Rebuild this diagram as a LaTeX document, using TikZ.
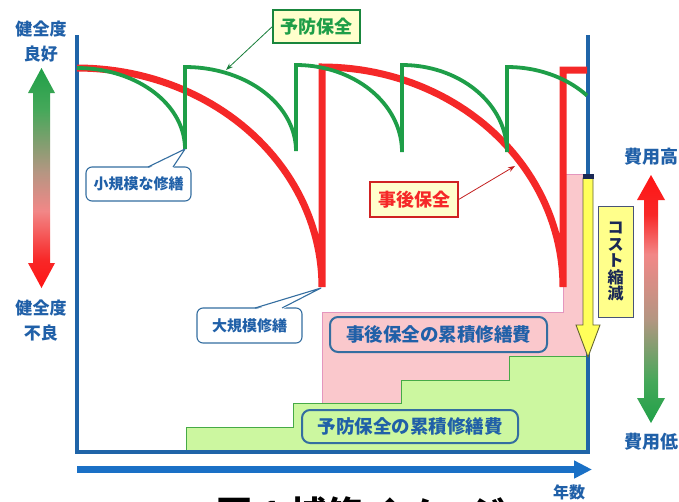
\documentclass[tikz,border=0pt]{standalone}
\usepackage{fontspec}
\newfontfamily\jp{Noto Sans CJK JP}
\usetikzlibrary{arrows.meta}
\definecolor{axisblue}{RGB}{31,100,168}
\definecolor{timeblue}{RGB}{26,112,198}
\definecolor{rline}{RGB}{245,40,40}
\definecolor{gline}{RGB}{30,158,72}
\definecolor{tblue}{RGB}{32,96,168}
\definecolor{pinkfill}{RGB}{250,200,204}
\definecolor{pinkedge}{RGB}{228,150,190}
\definecolor{greenfill}{RGB}{204,247,160}
\definecolor{greenedge}{RGB}{70,170,70}
\definecolor{creamfill}{RGB}{255,255,204}
\definecolor{yfill}{RGB}{255,255,90}
\definecolor{yedge}{RGB}{100,100,50}
\definecolor{navy}{RGB}{26,40,85}
\definecolor{boxedge}{RGB}{52,110,160}
\definecolor{hred}{RGB}{255,20,20}
\definecolor{hred2}{RGB}{248,40,40}
\definecolor{hpink}{RGB}{242,135,135}
\definecolor{hgray}{RGB}{180,150,130}
\definecolor{hgreen2}{RGB}{70,168,90}
\definecolor{hgreen}{RGB}{32,160,72}
\pgfdeclareverticalshading{healthgrad}{100bp}{color(0bp)=(hred); color(25bp)=(hred); color(31.5bp)=(hred2); color(42.5bp)=(hpink); color(51.5bp)=(hgray); color(65.5bp)=(hgreen2); color(75bp)=(hgreen); color(100bp)=(hgreen)}
\pgfdeclareverticalshading{costgrad}{100bp}{color(0bp)=(hgreen); color(25bp)=(hgreen); color(33.5bp)=(hgreen2); color(46bp)=(hgray); color(59bp)=(hpink); color(67bp)=(hred2); color(75bp)=(hred); color(100bp)=(hred)}
\tikzset{
  jpfont/.style={font=\jp\bfseries\fontsize{#1}{#1}\selectfont},
  lbl/.style={text=tblue, inner sep=0pt, align=center},
  redcurve/.style={draw=rline, line width=7pt, line join=miter},
  greencurve/.style={draw=gline, line width=3.8pt, line join=miter},
  callbox/.style={draw=boxedge, line width=1.1pt, fill=white, rounded corners=6pt, text=tblue, inner sep=0pt},
  costbox/.style={draw=boxedge, line width=2pt, rounded corners=8pt, text=tblue, inner sep=0pt},
}
\begin{document}
\begin{tikzpicture}[x=1pt,y=-1pt]
\useasboundingbox (0,0) rectangle (679,501);
\fill[white] (0,0) rectangle (679,501);

% cumulative cost regions
\fill[pinkfill] (322,452) -- (322,312) -- (563,312) -- (563,174) -- (588,174) -- (588,452) -- cycle;
\draw[pinkedge, line width=0.9pt] (322,452) -- (322,312) -- (563,312) -- (563,174) -- (588,174);
\filldraw[fill=greenfill, draw=greenedge, line width=0.9pt] (186,452) -- (186,427) -- (293,427) -- (293,403) -- (401,403) -- (401,380) -- (509,380) -- (509,356) -- (588,356) -- (588,452) -- cycle;

% axes frame
\draw[axisblue, line width=3.5pt] (77,35) -- (77,452) -- (588,452) -- (588,35);

% time arrow
\coordinate (t0) at (77,469.5);
\coordinate (t1) at (592,469.5);
\draw[timeblue, line width=7.5pt, -{Triangle[length=18pt,width=17pt]}] (t0) -- (t1);

% red curve (after-the-fact maintenance)
\draw[redcurve] plot[domain=0:90,samples=50] ({77+245*sin(\x)},{287-219*cos(\x)})
  -- plot[domain=0:90,samples=50] ({322+241*sin(\x)},{287-220*cos(\x)})
  -- (563,70) -- (587,70);

% green curve (preventive maintenance)
\draw[greencurve] plot[domain=0:90,samples=40] ({77+108*sin(\x)},{149-81*cos(\x)})
  -- plot[domain=0:90,samples=40] ({185+111*sin(\x)},{151-84*cos(\x)})
  -- plot[domain=0:90,samples=40] ({296+106*sin(\x)},{152-87*cos(\x)})
  -- plot[domain=0:90,samples=40] ({402+105*sin(\x)},{152-87*cos(\x)})
  -- plot[domain=0:48.4,samples=30] ({507+107*sin(\x)},{152-85*cos(\x)});

% label boxes
\node[draw=gline!85!black, line width=1.2pt, fill=creamfill, text=gline, jpfont=18, minimum width=87pt, minimum height=33pt, inner sep=0pt] (yobo) at (316.5,26.5) {予防保全};
\coordinate (yobopt) at (226,70);
\draw[gline!80!black, line width=0.8pt, -{Stealth[length=7pt,width=5pt]}] (yobo.west) -- (yobopt);

\node[draw=rline!85!black, line width=1.2pt, fill=creamfill, text=rline, jpfont=18, minimum width=88pt, minimum height=35pt, inner sep=0pt] (jigo) at (414,199.5) {事後保全};
\coordinate (jigopt) at (515,166);
\draw[rline!80!black, line width=0.8pt, -{Stealth[length=7pt,width=5pt]}] (jigo.east) -- (jigopt);

% callout: small repair
\node[callbox, jpfont=15, minimum width=105pt, minimum height=34pt] (shou) at (138.5,184) {小規模な修繕};
\coordinate (shoupt) at (185,149);
\fill[white] (148,168.6) -- (shoupt) -- (173,168.6) -- cycle;
\draw[boxedge, line width=1.1pt, line join=round] (148,167) -- (shoupt) -- (173,167);

% callout: large repair
\node[callbox, jpfont=15, minimum width=105pt, minimum height=35pt] (dai) at (249.5,325.5) {大規模修繕};
\coordinate (daipt) at (321,288);
\fill[white] (255,309.6) -- (daipt) -- (282,309.6) -- cycle;
\draw[boxedge, line width=1.1pt, line join=round] (255,308) -- (daipt) -- (282,308);

% cumulative cost labels
\node[costbox, fill=pinkfill, jpfont=18.5, minimum width=217pt, minimum height=35pt] (jigocost) at (438.5,334.5) {事後保全の累積修繕費};
\node[costbox, fill=greenfill, jpfont=18.5, minimum width=216pt, minimum height=33pt] (yobocost) at (410,426.5) {予防保全の累積修繕費};

% cost reduction arrow
\filldraw[fill=yfill, draw=yedge, line width=0.9pt] (583,178) -- (593,178) -- (593,325) -- (600,325) -- (588,357) -- (576,325) -- (583,325) -- cycle;
\fill[navy] (582.5,174) rectangle (593.5,179);
\node[draw=navy!80, line width=0.9pt, fill=yfill!70!white, text=navy, minimum width=35pt, minimum height=111pt, inner sep=0pt, align=center, font=\jp\bfseries\fontsize{16}{16.5}\selectfont] (cost) at (615.5,261.5) {コ\\ス\\ト\\縮\\減};

% health gradient arrow
\shade[shading=healthgrad] (41.5,68) -- (55,93) -- (50,93) -- (50,263) -- (55,263) -- (41.5,288) -- (28,263) -- (33,263) -- (33,93) -- (28,93) -- cycle;
\node[lbl, font=\jp\bfseries\fontsize{17}{25}\selectfont] (hgood) at (41,42) {健全度\\良好};
\node[lbl, font=\jp\bfseries\fontsize{17}{25}\selectfont] (hbad) at (41,321) {健全度\\不良};

% cost gradient arrow
\shade[shading=costgrad] (651,175) -- (665,200) -- (658,200) -- (658,398) -- (665,398) -- (651,423) -- (637,398) -- (644,398) -- (644,200) -- (637,200) -- cycle;
\node[lbl, jpfont=18] (chigh) at (651,157) {費用高};
\node[lbl, jpfont=18] (clow) at (651,442) {費用低};

\node[lbl, jpfont=16] (years) at (569,492) {年数};

% caption (cut off by the page edge, as in the reference)
\node[anchor=base west, inner sep=0pt, text=black, jpfont=36] (caption) at (216,527) {図 1\ 補修イメージ};
\end{tikzpicture}
\end{document}
